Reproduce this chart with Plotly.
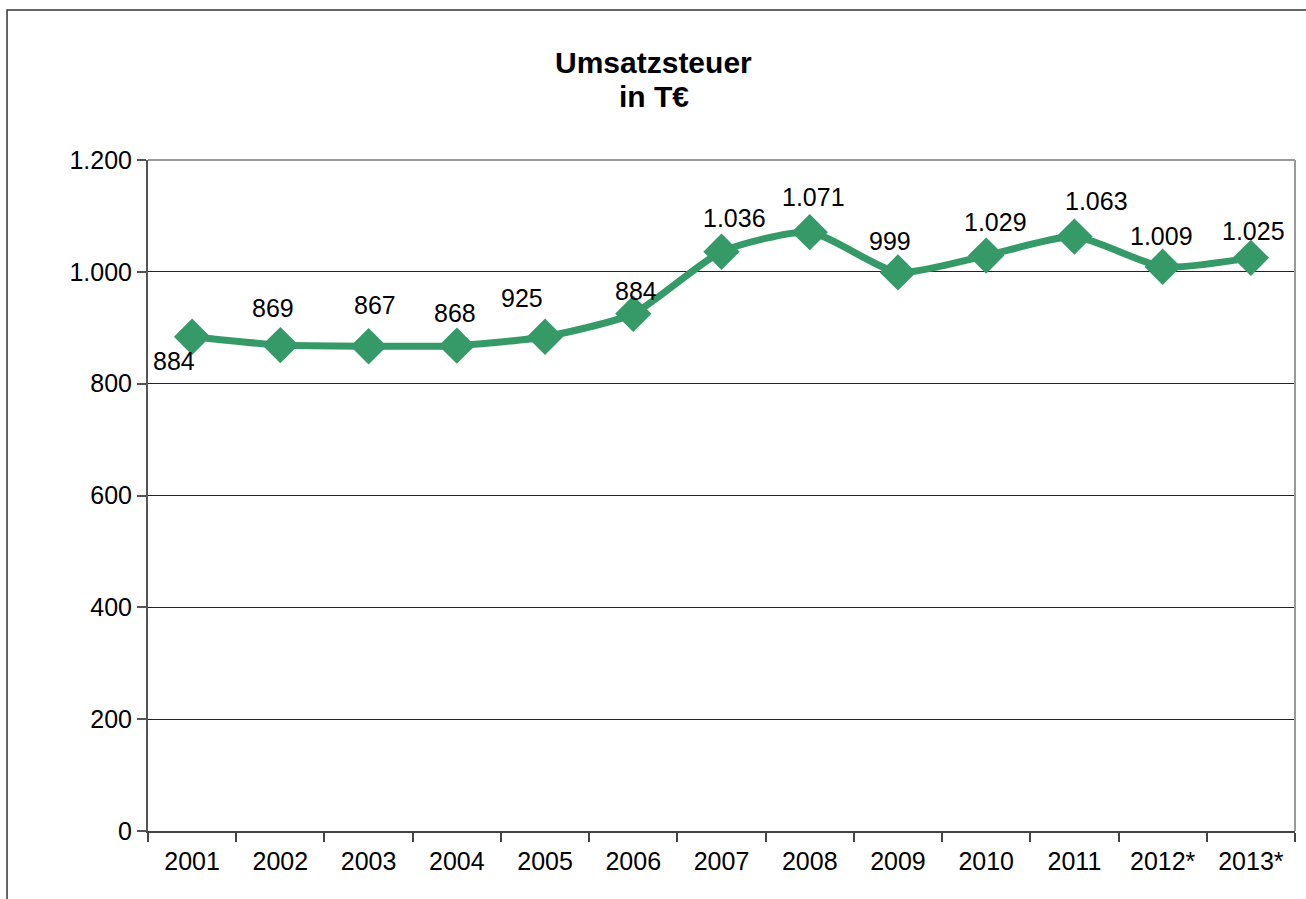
import plotly.graph_objects as go

years = ["2001", "2002", "2003", "2004", "2005", "2006", "2007",
         "2008", "2009", "2010", "2011", "2012*", "2013*"]
values = [884, 869, 867, 868, 884, 925, 1036, 1071, 999, 1029, 1063, 1009, 1025]
labels = ["884", "869", "867", "868", "925", "884", "1.036",
          "1.071", "999", "1.029", "1.063", "1.009", "1.025"]
y_ticks = [0, 200, 400, 600, 800, 1000, 1200]
y_ticktext = ["0", "200", "400", "600", "800", "1.000", "1.200"]

# label offsets in pixels (style only)
label_dx = [-18, -7, 6, -2, -23, 3, 13, 4, -8, 9, 22, -1, 3]
label_dy = [-24, 37, 41, 33, 39, 23, 34, 35, 31, 34, 36, 31, 27]

GREEN = "#359A68"
FONT = "Liberation Sans, Arial, sans-serif"

fig = go.Figure()
fig.add_trace(go.Scatter(
    x=years, y=values, mode="lines+markers",
    line=dict(color=GREEN, width=7, shape="spline", smoothing=0.6),
    marker=dict(symbol="diamond", size=28, color=GREEN),
    hoverinfo="x+y", showlegend=False,
))

for i, (v, t, dx, dy) in enumerate(zip(values, labels, label_dx, label_dy)):
    fig.add_annotation(x=i, y=v, xref="x", yref="y", text=t, showarrow=False,
                       xshift=dx, yshift=dy,
                       font=dict(family=FONT, size=25, color="#000000"))

# title (two lines as separate annotations for precise spacing)
fig.add_annotation(x=0.441, y=1.1446, xref="paper", yref="paper",
                   text="<b>Umsatzsteuer</b>", showarrow=False,
                   xanchor="center", yanchor="middle",
                   font=dict(family=FONT, size=30, color="#000000"))
fig.add_annotation(x=0.441, y=1.0939, xref="paper", yref="paper",
                   text="<b>in T€</b>", showarrow=False,
                   xanchor="center", yanchor="middle",
                   font=dict(family=FONT, size=30, color="#000000"))

shapes = [
    # outer chart frame
    dict(type="rect", xref="paper", yref="paper",
         x0=-0.1229, y0=-0.3, x1=1.2, y1=1.2235,
         line=dict(color="#333333", width=1.5), layer="below"),
    # plot area top and right border
    dict(type="line", xref="paper", yref="paper", x0=0, y0=1, x1=1, y1=1,
         line=dict(color="#999999", width=2)),
    dict(type="line", xref="paper", yref="paper", x0=1, y0=0, x1=1, y1=1,
         line=dict(color="#999999", width=2)),
]

fig.update_layout(
    width=1306, height=899,
    margin=dict(l=148, r=11, t=160, b=68),
    paper_bgcolor="white", plot_bgcolor="white",
    font=dict(family=FONT, size=25, color="#000000"),
    shapes=shapes,
    xaxis=dict(
        type="category", range=[-0.5, 12.5],
        showline=True, linecolor="#444444", linewidth=2,
        ticks="outside", tickson="boundaries", ticklen=9,
        tickcolor="#444444", tickwidth=1.5,
        showgrid=False, zeroline=False, ticklabelstandoff=7,
        tickfont=dict(family=FONT, size=25),
    ),
    yaxis=dict(
        range=[0, 1200], tickvals=y_ticks, ticktext=y_ticktext,
        showline=True, linecolor="#555555", linewidth=2,
        ticks="outside", ticklen=9, tickcolor="#555555", tickwidth=1.5,
        showgrid=True, gridcolor="#222222", gridwidth=1,
        zeroline=False, tickfont=dict(family=FONT, size=25),
    ),
)

fig.write_html("out.html", config={"displayModeBar": False},
               post_script="document.body.style.margin='0';")
